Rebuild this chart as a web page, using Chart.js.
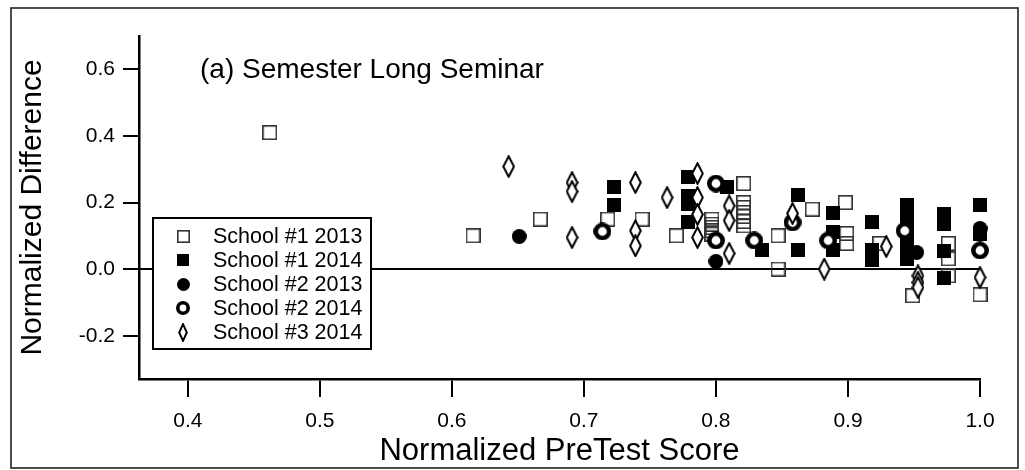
<!DOCTYPE html>
<html>
<head>
<meta charset="utf-8">
<script src="https://cdn.jsdelivr.net/npm/chart.js@4.4.1/dist/chart.umd.min.js"></script>
<style>
  html, body { margin: 0; padding: 0; background: #fff; }
  #wrap { width: 1025px; height: 470px; }
</style>
</head>
<body>
<div id="wrap"><canvas id="seminarChart" width="1025" height="470"></canvas></div>
<script>
// values
const seriesLabels = ["School #1 2013", "School #1 2014", "School #2 2013", "School #2 2014", "School #3 2014"];

const school1_2013X = [0.462, 0.616, 0.667, 0.718, 0.744, 0.770, 0.797, 0.797, 0.797, 0.797, 0.797, 0.821, 0.821, 0.821, 0.821, 0.821, 0.821, 0.821, 0.847, 0.847, 0.873, 0.898, 0.899, 0.899, 0.924, 0.949, 0.976, 0.976, 0.976, 1.0];
const school1_2013Y = [0.41, 0.10, 0.15, 0.15, 0.15, 0.10, 0.15, 0.135, 0.125, 0.115, 0.105, 0.257, 0.20, 0.185, 0.17, 0.158, 0.143, 0.13, 0.10, 0.0, 0.18, 0.20, 0.107, 0.077, 0.077, -0.08, 0.077, 0.031, -0.02, -0.077];

const school1_2014X = [0.723, 0.723, 0.779, 0.779, 0.779, 0.779, 0.808, 0.835, 0.862, 0.862, 0.889, 0.889, 0.889, 0.918, 0.918, 0.918, 0.945, 0.945, 0.945, 0.945, 0.945, 0.945, 0.973, 0.973, 0.973, 0.973, 1.0, 1.0];
const school1_2014Y = [0.248, 0.194, 0.278, 0.22, 0.197, 0.14, 0.248, 0.056, 0.224, 0.056, 0.167, 0.11, 0.056, 0.14, 0.056, 0.026, 0.194, 0.165, 0.135, 0.10, 0.065, 0.03, 0.164, 0.134, 0.055, -0.028, 0.194, 0.105];

const school2_2013X = [0.651, 0.80, 0.952, 1.0];
const school2_2013Y = [0.098, 0.023, 0.05, 0.122];

const school2_2014X = [0.714, 0.80, 0.80, 0.829, 0.858, 0.885, 0.943, 1.0];
const school2_2014Y = [0.113, 0.257, 0.086, 0.086, 0.14, 0.086, 0.115, 0.056];

const school3_2014X = [0.643, 0.691, 0.691, 0.691, 0.739, 0.739, 0.739, 0.763, 0.786, 0.786, 0.786, 0.786, 0.81, 0.81, 0.81, 0.858, 0.882, 0.929, 0.953, 0.953, 0.953, 1.0];
const school3_2014Y = [0.308, 0.26, 0.233, 0.095, 0.26, 0.115, 0.07, 0.215, 0.287, 0.215, 0.164, 0.095, 0.19, 0.146, 0.047, 0.167, 0.0, 0.068, -0.02, -0.04, -0.055, -0.025];

const xTicks = [0.4, 0.5, 0.6, 0.7, 0.8, 0.9, 1.0];
const yTicks = [-0.2, 0.0, 0.2, 0.4, 0.6];

const FONT = "'Liberation Sans', Arial, sans-serif";

function toPoints(xs, ys) {
  return xs.map((x, i) => ({ x, y: ys[i] }));
}

function makeMarker(w, h, draw) {
  const c = document.createElement("canvas");
  c.width = w;
  c.height = h;
  draw(c.getContext("2d"), w, h);
  return c;
}

function openSquare(s) {
  return makeMarker(s, s, (ctx) => {
    ctx.strokeStyle = "#333";
    ctx.lineWidth = 1.6;
    ctx.strokeRect(0.8, 0.8, s - 1.6, s - 1.6);
  });
}
function filledSquare(s) {
  return makeMarker(s, s, (ctx) => {
    ctx.fillStyle = "#000";
    ctx.fillRect(0, 0, s, s);
  });
}
function filledCircle(s) {
  return makeMarker(s, s, (ctx) => {
    ctx.fillStyle = "#000";
    ctx.beginPath();
    ctx.arc(s / 2, s / 2, s / 2, 0, Math.PI * 2);
    ctx.fill();
  });
}
function openCircle(s, lw) {
  return makeMarker(s, s, (ctx) => {
    ctx.beginPath();
    ctx.arc(s / 2, s / 2, (s - lw) / 2, 0, Math.PI * 2);
    ctx.fillStyle = "#fff";
    ctx.fill();
    ctx.strokeStyle = "#000";
    ctx.lineWidth = lw;
    ctx.stroke();
  });
}
function diamond(w, h) {
  return makeMarker(w, h, (ctx) => {
    ctx.beginPath();
    ctx.moveTo(w / 2, 1.2);
    ctx.lineTo(w - 1.2, h / 2);
    ctx.lineTo(w / 2, h - 1.2);
    ctx.lineTo(1.2, h / 2);
    ctx.closePath();
    ctx.fillStyle = "#fff";
    ctx.fill();
    ctx.strokeStyle = "#000";
    ctx.lineWidth = 2;
    ctx.stroke();
  });
}

const plotMarkers = [openSquare(15), filledSquare(14), filledCircle(15), openCircle(18, 4.6), diamond(13, 23)];
const legendMarkers = [openSquare(13), filledSquare(12), filledCircle(13), openCircle(14, 3.6), diamond(10, 19)];

const seriesData = [
  toPoints(school1_2013X, school1_2013Y),
  toPoints(school1_2014X, school1_2014Y),
  toPoints(school2_2013X, school2_2013Y),
  toPoints(school2_2014X, school2_2014Y),
  toPoints(school3_2014X, school3_2014Y)
];
// lower order draws on top: diamonds over circles over squares
const drawOrder = [4, 3, 2, 1, 0];

const framePlugin = {
  id: "frame",
  beforeDraw(chart) {
    const ctx = chart.ctx;
    ctx.save();
    ctx.fillStyle = "#fff";
    ctx.fillRect(0, 0, chart.width, chart.height);
    ctx.strokeStyle = "#222";
    ctx.lineWidth = 1.6;
    ctx.strokeRect(11, 8, 1007, 460);
    ctx.restore();
  },
  beforeDatasetsDraw(chart) {
    const { ctx, chartArea, scales } = chart;
    const y0 = scales.y.getPixelForValue(0);
    ctx.save();
    ctx.strokeStyle = "#000";
    ctx.lineWidth = 2;
    ctx.beginPath();
    ctx.moveTo(chartArea.left, y0);
    ctx.lineTo(chartArea.right, y0);
    ctx.stroke();
    ctx.restore();
  },
  afterDraw(chart) {
    const ctx = chart.ctx;
    ctx.save();
    // panel label
    ctx.fillStyle = "#000";
    ctx.font = "28px " + FONT;
    ctx.textBaseline = "middle";
    ctx.textAlign = "left";
    ctx.fillText("(a) Semester Long Seminar", 200, 70);

    // boxed legend
    ctx.fillStyle = "#fff";
    ctx.fillRect(153, 218, 218, 131);
    ctx.strokeStyle = "#000";
    ctx.lineWidth = 2;
    ctx.strokeRect(153, 218, 218, 131);
    ctx.font = "21.5px " + FONT;
    seriesLabels.forEach((label, i) => {
      const cy = 236 + i * 24;
      const m = legendMarkers[i];
      ctx.drawImage(m, Math.round(183 - m.width / 2), Math.round(cy - m.height / 2));
      ctx.fillStyle = "#000";
      ctx.fillText(label, 213, cy + 1);
    });
    ctx.restore();
  }
};

new Chart(document.getElementById("seminarChart"), {
  type: "scatter",
  data: {
    datasets: seriesLabels.map((label, i) => ({
      label,
      data: seriesData[i],
      order: drawOrder[i],
      clip: false,
      pointStyle: plotMarkers[i],
      pointRadius: 7,
      pointHoverRadius: 7
    }))
  },
  options: {
    responsive: false,
    animation: false,
    events: [],
    layout: { padding: { top: 36, right: 45, left: 0, bottom: 0 } },
    plugins: {
      legend: { display: false },
      tooltip: { enabled: false },
      title: { display: false }
    },
    scales: {
      x: {
        type: "linear",
        min: 0.363,
        max: 1.0,
        afterBuildTicks(scale) {
          scale.ticks = xTicks.map((v) => ({ value: v }));
        },
        afterFit(scale) {
          scale.height = 91;
        },
        border: { display: true, color: "#000", width: 2.5 },
        grid: { drawOnChartArea: false, drawTicks: true, tickLength: 18, color: "#000", lineWidth: 2 },
        ticks: {
          color: "#000",
          padding: 12,
          maxRotation: 0,
          font: { family: FONT, size: 21 },
          callback: (v) => Number(v).toFixed(1)
        },
        title: {
          display: true,
          text: "Normalized PreTest Score",
          color: "#000",
          font: { family: FONT, size: 31 },
          padding: { top: 0, bottom: 0 }
        }
      },
      y: {
        type: "linear",
        min: -0.33,
        max: 0.7,
        afterBuildTicks(scale) {
          scale.ticks = yTicks.map((v) => ({ value: v }));
        },
        afterFit(scale) {
          scale.width = 139;
        },
        border: { display: true, color: "#000", width: 2.5 },
        grid: { drawOnChartArea: false, drawTicks: true, tickLength: 16, color: "#000", lineWidth: 2 },
        ticks: {
          color: "#000",
          padding: 8,
          font: { family: FONT, size: 21 },
          callback: (v) => Number(v).toFixed(1)
        },
        title: {
          display: true,
          text: "Normalized Difference",
          color: "#000",
          font: { family: FONT, size: 30 },
          padding: { top: 15, bottom: 0 }
        }
      }
    }
  },
  plugins: [framePlugin]
});
</script>
</body>
</html>
